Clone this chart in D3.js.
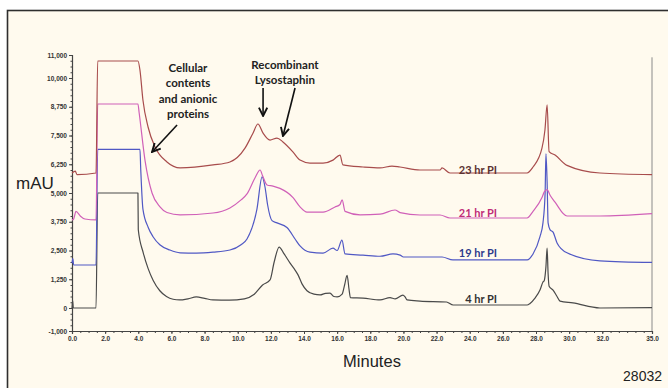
<!DOCTYPE html>
<html>
<head>
<meta charset="utf-8">
<script src="https://cdn.jsdelivr.net/npm/d3@7"></script>
<style>
  body { margin: 0; background: #ffffff; }
  svg { display: block; }
</style>
</head>
<body>
<div id="chart"></div>
<script>
// chromatogram traces, [minutes, mAU] as plotted (stacked offsets included)
const trace4 = [[0,0],[0.04,320],[0.08,0],[1.45,0],[1.55,5000],[3.98,5000],[4.0,3400],[4.3,2400],[4.6,1700],[4.9,1200],[5.3,750],[5.7,500],[6.1,380],[6.5,350],[7.0,400],[7.5,480],[8.0,420],[8.5,350],[9.5,340],[10.4,400],[11.0,600],[11.5,1000],[11.95,1220],[12.2,2000],[12.5,2650],[12.8,2350],[13.16,1950],[13.46,1650],[13.64,1440],[13.88,1050],[14.18,750],[14.6,600],[14.97,570],[15.3,640],[15.57,650],[15.8,500],[16.0,480],[16.3,600],[16.45,1000],[16.6,1420],[16.72,800],[16.8,450],[17.56,430],[18.59,350],[19.19,450],[19.5,400],[19.97,560],[20.1,480],[20.22,350],[21.0,300],[22.6,260],[23.0,130],[25.8,130],[27.46,130],[27.64,200],[27.94,430],[28.24,780],[28.42,1130],[28.5,1200],[28.6,1800],[28.67,2600],[28.73,1500],[28.79,950],[29.03,780],[29.27,500],[29.45,300],[30.23,220],[31.86,0],[35,20]];
const trace19 = [[0,1950],[0.05,2150],[0.1,1870],[1.45,1870],[1.55,6900],[4.1,6900],[4.15,6000],[4.28,4300],[4.6,3500],[4.89,3100],[5.3,2750],[5.91,2520],[6.52,2400],[7.5,2390],[8.51,2430],[9.53,2520],[10.2,2750],[10.56,3000],[11.16,4300],[11.47,5700],[11.65,5250],[11.8,4500],[12.07,3800],[12.37,3700],[12.97,3500],[13.46,3000],[13.76,2700],[14.36,2430],[15.15,2390],[15.75,2600],[16.0,2500],[16.29,2950],[16.48,2350],[17.56,2300],[18.59,2250],[19.37,2350],[19.8,2300],[20.0,2217],[22.33,2217],[22.99,2090],[27.46,2090],[27.82,2350],[28.24,3100],[28.42,3700],[28.55,5000],[28.6,6700],[28.67,5500],[28.73,3700],[28.85,3400],[29.03,3300],[29.27,2830],[29.87,2400],[31.86,2050],[35,1980]];
const trace21 = [[0,3830],[0.1,3870],[0.24,4200],[0.5,4000],[0.78,3870],[1.45,3830],[1.55,8870],[3.98,8870],[4.05,8500],[4.41,6400],[4.83,5000],[5.31,4400],[5.73,4150],[6.52,4050],[8.51,4130],[9.53,4350],[10.2,4700],[10.56,4960],[11.04,5650],[11.35,6000],[11.5,5750],[11.77,5350],[12.13,5300],[12.55,5200],[13.34,4800],[13.76,4400],[14.18,4170],[15.15,4170],[15.87,4390],[16.17,4500],[16.3,4700],[16.48,4200],[17.38,4050],[18.59,4080],[19.49,4260],[19.8,4150],[21.0,4044],[22.21,4044],[22.81,3913],[27.46,3913],[27.82,4200],[28.36,4800],[28.5,5050],[28.67,5150],[28.85,4900],[29.15,4600],[29.87,4000],[31.86,4000],[35,4100]];
const trace23 = [[0,5870],[0.2,5950],[0.3,5800],[1.45,5870],[1.55,10740],[3.98,10740],[4.1,10348],[4.28,9044],[4.59,7870],[5.01,7000],[5.73,6350],[6.52,6090],[8.51,6220],[9.53,6350],[10.44,6950],[10.92,7600],[11.22,8000],[11.53,7600],[11.95,7300],[12.37,7390],[12.73,7220],[13.34,6780],[13.76,6430],[14.36,6300],[15.15,6300],[15.75,6430],[16.17,6650],[16.35,6220],[17.56,6130],[18.59,6090],[19.31,6170],[19.79,6130],[21.0,6000],[22.21,6000],[22.33,6090],[22.81,5870],[27.46,5870],[27.82,6130],[28.36,6950],[28.54,7740],[28.67,8830],[28.79,6800],[29.15,6650],[29.87,6200],[31.86,5870],[35,5800]];

const seriesNames = ["4 hr PI", "19 hr PI", "21 hr PI", "23 hr PI"];
const seriesData = [trace4, trace19, trace21, trace23];
const lineColors = ["#4a4a4a", "#5058c4", "#d060b8", "#a84c4c"];
const labelColors = ["#333333", "#2e3a8c", "#c02c78", "#5a3232"];
// label anchor [minutes, mAU] (right aligned)
const labelPos = [[25.65, 200], [25.65, 2200], [25.65, 3950], [25.65, 5820]];

const yTicks = [-1000, 0, 1250, 2500, 3750, 5000, 6250, 7500, 8750, 10000, 11000];
const xTicks = [0, 2, 4, 6, 8, 10, 12, 14, 16, 18, 20, 22, 24, 26, 28, 30, 32, 35];

// annotations [minutes, mAU]
const noteCellular = ["Cellular", "contents", "and anionic", "proteins"];
const noteRecomb = ["Recombinant", "Lysostaphin"];
const arrows = [
  [[6.34, 7957], [4.83, 6783]],
  [[11.53, 9566], [11.53, 8348]],
  [[13.46, 9566], [12.73, 7479]]
];

const W = 668, H = 388;

const svg = d3.select("#chart")
  .append("svg")
  .attr("width", W)
  .attr("height", H);

// panel frame
svg.append("rect")
  .attr("x", 7.5).attr("y", 10.5)
  .attr("width", W + 20).attr("height", H + 20)
  .attr("fill", "#fffaee")
  .attr("stroke", "#2e2e2e")
  .attr("stroke-width", 1.6);

const x = d3.scaleLinear().domain([0, 35]).range([72, 652]);
const y = d3.scaleLinear().domain([-1000, 11000]).range([331, 55]);

// right edge of plot
svg.append("line")
  .attr("x1", x(35)).attr("x2", x(35))
  .attr("y1", y(10900)).attr("y2", y(-1000))
  .attr("stroke", "#8a8a8a").attr("stroke-width", 1);

// y axis
const fmt = d => d3.format(",")(d).replace("\u2212", "-");
const yAxis = svg.append("g")
  .attr("transform", "translate(" + x(0) + ",0)")
  .call(d3.axisLeft(y).tickValues(yTicks).tickSize(3).tickFormat(fmt));
svg.append("g")
  .attr("transform", "translate(" + x(0) + ",0)")
  .call(d3.axisLeft(y).tickValues(d3.range(-1000, 11001, 250)).tickSize(1.5).tickFormat(""))
  .select(".domain").remove();

// x axis
const xAxis = svg.append("g")
  .attr("transform", "translate(0," + y(-1000) + ")")
  .call(d3.axisBottom(x).tickValues(xTicks).tickSize(3).tickFormat(d3.format(".1f")));
svg.append("g")
  .attr("transform", "translate(0," + y(-1000) + ")")
  .call(d3.axisBottom(x).tickValues(d3.range(0, 35.01, 0.5)).tickSize(2).tickFormat(""))
  .select(".domain").remove();

svg.selectAll(".domain").attr("stroke", "#444").attr("stroke-width", 1.2);
svg.selectAll(".tick line").attr("stroke", "#444");
[yAxis, xAxis].forEach(g => g.selectAll("text")
  .attr("font-family", "Liberation Sans, Arial, sans-serif")
  .attr("font-size", 6.5)
  .attr("font-weight", "bold")
  .attr("fill", "#333"));
yAxis.selectAll("text").attr("dx", 1);
xAxis.selectAll("text").attr("dy", "0.6em");

// traces
const line = d3.line()
  .curve(d3.curveMonotoneX)
  .x(d => x(d[0]))
  .y(d => y(d[1]));

svg.selectAll(".trace")
  .data(seriesData)
  .enter().append("path")
  .attr("class", "trace")
  .attr("d", line)
  .attr("fill", "none")
  .attr("stroke", (d, i) => lineColors[i])
  .attr("stroke-width", 1.2)
  .attr("stroke-linejoin", "round");

// series labels
svg.selectAll(".slabel")
  .data(seriesNames)
  .enter().append("text")
  .attr("class", "slabel")
  .attr("x", (d, i) => x(labelPos[i][0]))
  .attr("y", (d, i) => y(labelPos[i][1]))
  .attr("text-anchor", "end")
  .attr("font-family", "Lato, sans-serif")
  .attr("font-weight", "bold")
  .attr("font-size", 11)
  .attr("fill", (d, i) => labelColors[i])
  .text(d => d);

// annotations
const noteFont = g => g
  .attr("font-family", "Lato, sans-serif")
  .attr("font-weight", "bold")
  .attr("font-size", 11.5)
  .attr("fill", "#222")
  .attr("text-anchor", "middle");

svg.selectAll(".ncell")
  .data(noteCellular)
  .enter().append("text")
  .attr("x", x(7.0))
  .attr("y", (d, i) => y(10261) + i * 15.3)
  .call(noteFont)
  .text(d => d);

svg.selectAll(".nrec")
  .data(noteRecomb)
  .enter().append("text")
  .attr("x", x(12.85))
  .attr("y", (d, i) => y(10392) + i * 15)
  .call(noteFont)
  .text(d => d);

svg.append("defs").append("marker")
  .attr("id", "head")
  .attr("viewBox", "0 0 10 10")
  .attr("refX", 9).attr("refY", 5)
  .attr("markerWidth", 6.5).attr("markerHeight", 6.5)
  .attr("orient", "auto")
  .append("path")
  .attr("d", "M1,1 L9,5 L1,9")
  .attr("fill", "none")
  .attr("stroke", "#111")
  .attr("stroke-width", 1.8);

svg.selectAll(".arrow")
  .data(arrows)
  .enter().append("line")
  .attr("x1", d => x(d[0][0])).attr("y1", d => y(d[0][1]))
  .attr("x2", d => x(d[1][0])).attr("y2", d => y(d[1][1]))
  .attr("stroke", "#111")
  .attr("stroke-width", 1.6)
  .attr("marker-end", "url(#head)");

// axis titles
const narrow = "Liberation Sans Narrow, Arial Narrow, sans-serif";
svg.append("text")
  .attr("x", 16).attr("y", 189)
  .attr("font-family", narrow).attr("font-size", 17).attr("fill", "#222")
  .text("mAU");
svg.append("text")
  .attr("x", 372).attr("y", 367)
  .attr("text-anchor", "middle")
  .attr("font-family", narrow).attr("font-size", 16.5).attr("fill", "#222")
  .text("Minutes");
svg.append("text")
  .attr("x", 662).attr("y", 381)
  .attr("text-anchor", "end")
  .attr("font-family", narrow).attr("font-size", 14).attr("fill", "#222")
  .text("28032");
</script>
</body>
</html>
